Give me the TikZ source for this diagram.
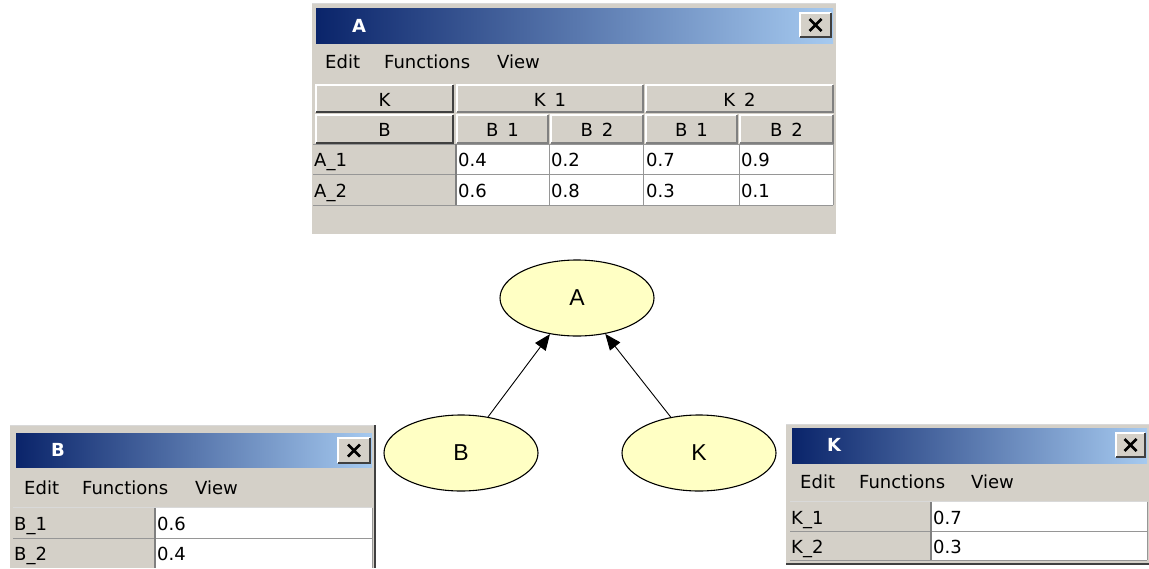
\documentclass[tikz,border=0pt]{standalone}
\usepackage{fontspec}
\setmainfont{DejaVu Sans}
\newfontfamily\graphfont{Liberation Sans}
\usetikzlibrary{shapes.geometric,arrows.meta}

\definecolor{wingray}{RGB}{212,208,200}
\definecolor{windark}{RGB}{128,128,128}
\definecolor{winshadow}{RGB}{64,64,64}
\definecolor{capdark}{RGB}{10,36,106}
\definecolor{caplight}{RGB}{166,202,240}
\definecolor{nodefill}{RGB}{255,255,196}
\definecolor{gridgray}{RGB}{150,150,150}

\tikzset{
  uitext/.style={anchor=base west, inner sep=0, font=\fontsize{18}{21}\selectfont},
  captext/.style={anchor=west, inner sep=0, text=white, font=\fontsize{18}{20}\selectfont\bfseries},
  hdrtext/.style={inner sep=0, font=\fontsize{18}{21}\selectfont},
  bnode/.style={ellipse, draw=black, line width=1.1pt, fill=nodefill,
    minimum width=154, minimum height=76, inner sep=0,
    font=\graphfont\fontsize{23}{25}\selectfont},
  link/.style={-{Triangle[length=16,width=13]}, line width=0.9pt},
  gridline/.style={gridgray, line width=1pt},
}

% raised header cell: name, x1, y1, x2, y2, text
\newcommand\raisedcell[6]{%
  \fill[wingray] (#2,#3) rectangle (#4,#5);
  \draw[white, line width=1.5pt] (#2,#5) -- (#2,#3) -- (#4,#3);
  \draw[windark, line width=1.5pt] (#2,#5) -- (#4,#5) -- (#4,#3);
  \node[hdrtext] (#1) at ({(#2+#4)/2},{(#3+#5)/2+1}) {#6};
}
% close button of a window caption: x1, y1, x2, y2
\newcommand\closebutton[4]{%
  \fill[wingray] (#1,#2) rectangle (#3,#4);
  \draw[white, line width=1.5pt] (#1,#4) -- (#1,#2) -- (#3,#2);
  \draw[winshadow, line width=1.5pt] (#1,#4) -- (#3,#4) -- (#3,#2);
  \draw[black, line width=2.8pt]
    ({(#1+#3)/2-6},{(#2+#4)/2-6}) -- ({(#1+#3)/2+6},{(#2+#4)/2+6})
    ({(#1+#3)/2-6},{(#2+#4)/2+6}) -- ({(#1+#3)/2+6},{(#2+#4)/2-6});
}

\begin{document}
\begin{tikzpicture}[x=1pt, y=-1pt]
\useasboundingbox[fill=white] (0,0) rectangle (1149,568);

% ---------------- window A ----------------
\fill[wingray] (312,3) rectangle (836,234);
\draw[white!85!black, line width=1pt] (312,3) -- (836,3);
\shade[left color=capdark, right color=caplight] (316,8) rectangle (833,43);
\node[captext] (titleA) at (352,26) {A};
\closebutton{800}{13}{831}{37}
\node[uitext] (editA) at (325,68) {Edit};
\node[uitext] (funcA) at (384,68) {Functions};
\node[uitext] (viewA) at (497,68) {View};

% column and row headers
\raisedcell{hK}{316}{85}{453}{112}{K}
\raisedcell{hB}{316}{115}{453}{143}{B}
\draw[winshadow, line width=2.5pt] (316,112) -- (453,112) -- (453,85);
\draw[winshadow, line width=2.5pt] (316,143) -- (453,143) -- (453,115);
\raisedcell{hK1}{457}{85}{643}{112}{K\enspace 1}
\raisedcell{hK2}{646}{85}{833}{112}{K\enspace 2}
\raisedcell{hB11}{457}{115}{548}{143}{B\enspace 1}
\raisedcell{hB12}{551}{115}{643}{143}{B\enspace 2}
\raisedcell{hB21}{646}{115}{737}{143}{B\enspace 1}
\raisedcell{hB22}{740}{115}{833}{143}{B\enspace 2}

% probability cells
\fill[white] (456,144) rectangle (833,205);
\foreach \yy in {144,174,205} \draw[gridline] (313,\yy) -- (833,\yy);
\foreach \xx in {549,643,739,833} \draw[gridline] (\xx,144) -- (\xx,205);
\draw[windark, line width=1.5pt] (456,144) -- (456,205);
\node[uitext] (a1) at (314,166) {A\_1};
\node[uitext] (a2) at (314,197) {A\_2};
\node[uitext] (a11) at (458,166) {0.4};
\node[uitext] (a12) at (551,166) {0.2};
\node[uitext] (a13) at (646,166) {0.7};
\node[uitext] (a14) at (741,166) {0.9};
\node[uitext] (a21) at (458,197) {0.6};
\node[uitext] (a22) at (551,197) {0.8};
\node[uitext] (a23) at (646,197) {0.3};
\node[uitext] (a24) at (741,197) {0.1};

% ---------------- window B ----------------
\fill[wingray] (10,425) rectangle (376,568);
\draw[white!85!black, line width=1pt] (10,425) -- (376,425);
\draw[winshadow, line width=2pt] (375,425) -- (375,568);
\shade[left color=capdark, right color=caplight] (16,433) rectangle (372,467);
\node[captext] (titleB) at (51,450) {B};
\closebutton{338}{438}{370}{463}
\node[uitext] (editB) at (24,494) {Edit};
\node[uitext] (funcB) at (82,494) {Functions};
\node[uitext] (viewB) at (195,494) {View};
\fill[white] (155,508) rectangle (372,568);
\draw[white!85!black, line width=1pt] (13,507) -- (372,507);
\foreach \yy in {538} \draw[gridline] (13,\yy) -- (372,\yy);
\draw[gridline] (372,508) -- (372,568);
\draw[windark, line width=1.5pt] (155,508) -- (155,568);
\node[uitext] (b1) at (14,530) {B\_1};
\node[uitext] (b2) at (14,560) {B\_2};
\node[uitext] (b1v) at (157,530) {0.6};
\node[uitext] (b2v) at (157,560) {0.4};

% ---------------- window K ----------------
\fill[wingray] (786,424) rectangle (1149,565);
\draw[white!85!black, line width=1pt] (786,424) -- (1149,424);
\draw[winshadow, line width=1.5pt] (786,564) -- (1149,564);
\shade[left color=capdark, right color=caplight] (792,428) rectangle (1147,463);
\node[captext] (titleK) at (827,445) {K};
\closebutton{1116}{433}{1145}{457}
\node[uitext] (editK) at (800,488) {Edit};
\node[uitext] (funcK) at (859,488) {Functions};
\node[uitext] (viewK) at (971,488) {View};
\fill[white] (931,502) rectangle (1147,560);
\draw[white!85!black, line width=1pt] (790,501) -- (1147,501);
\foreach \yy in {531,560} \draw[gridline] (790,\yy) -- (1147,\yy);
\draw[gridline] (1147,502) -- (1147,560);
\draw[windark, line width=1.5pt] (931,502) -- (931,560);
\node[uitext] (k1) at (791,524) {K\_1};
\node[uitext] (k2) at (791,553) {K\_2};
\node[uitext] (k1v) at (933,524) {0.7};
\node[uitext] (k2v) at (933,553) {0.3};

% ---------------- network ----------------
\node[bnode] (A) at (577,298) {A};
\node[bnode] (B) at (461,453) {B};
\node[bnode] (K) at (699,453) {K};
\draw[link] (B) -- (A);
\draw[link] (K) -- (A);
\end{tikzpicture}
\end{document}
